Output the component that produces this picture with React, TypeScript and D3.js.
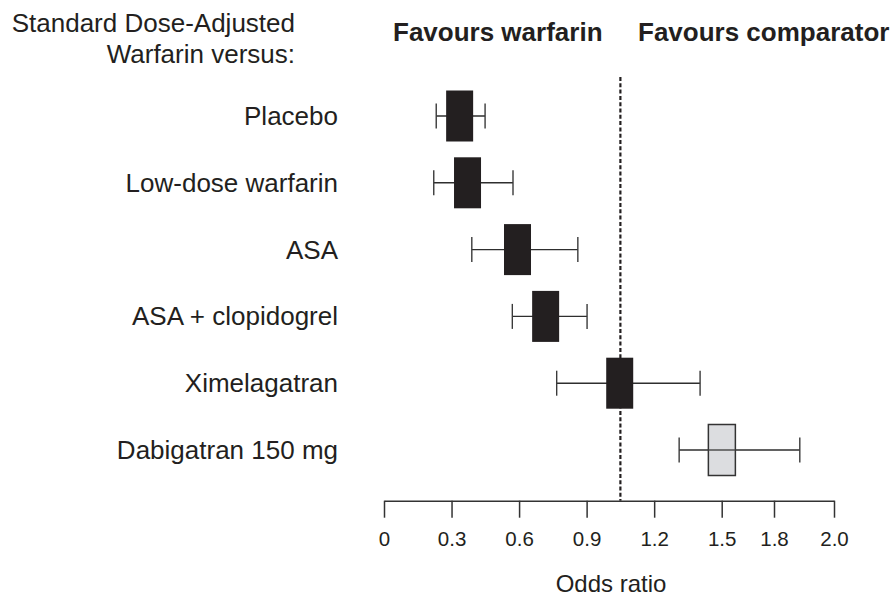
import { useEffect, useRef } from "react";
import * as d3 from "d3";

// comparators against standard dose-adjusted warfarin
const comparators = [
  "Placebo",
  "Low-dose warfarin",
  "ASA",
  "ASA + clopidogrel",
  "Ximelagatran",
  "Dabigatran 150 mg",
];
const oddsRatio = [0.336, 0.371, 0.593, 0.718, 1.047, 1.501];
const ciLow = [0.232, 0.221, 0.39, 0.57, 0.767, 1.311];
const ciHigh = [0.449, 0.573, 0.861, 0.902, 1.404, 1.886];
const highlighted = [false, false, false, false, false, true];

const tickValues = [0, 0.3, 0.6, 0.9, 1.2, 1.5, 1.8, 2.0];
const tickLabels = ["0", "0.3", "0.6", "0.9", "1.2", "1.5", "1.8", "2.0"];
const referenceValue = 1.05;

const W = 896;
const H = 599;
const FONT = "'Liberation Sans', Arial, Helvetica, sans-serif";
const INK = "#231f20";

const App = () => {
  const svgRef = useRef<SVGSVGElement>(null);

  useEffect(() => {
    if (!svgRef.current) return;
    const svg = d3.select(svgRef.current);
    svg.selectAll("*").remove();

    // the printed axis is not evenly spaced past 1.5, so follow its tick positions
    const x = d3
      .scaleLinear()
      .domain([0, 1.5, 1.8, 2.0])
      .range([384, 721.7, 774, 834]);

    const y = d3
      .scalePoint<string>()
      .domain(comparators)
      .range([116, 450]);

    const axisY = 500.7;
    const boxW = 27;
    const boxH = 51;
    const capH = 25;

    // header
    svg
      .append("text")
      .attr("x", 295)
      .attr("y", 32)
      .attr("text-anchor", "end")
      .style("font-size", "26px")
      .text("Standard Dose-Adjusted");
    svg
      .append("text")
      .attr("x", 295)
      .attr("y", 63)
      .attr("text-anchor", "end")
      .style("font-size", "26px")
      .text("Warfarin versus:");
    svg
      .append("text")
      .attr("x", 393)
      .attr("y", 41)
      .style("font-size", "26px")
      .style("font-weight", "bold")
      .text("Favours warfarin");
    svg
      .append("text")
      .attr("x", 638)
      .attr("y", 41)
      .style("font-size", "26px")
      .style("font-weight", "bold")
      .text("Favours comparator");

    // row labels
    svg
      .append("g")
      .selectAll("text")
      .data(comparators)
      .enter()
      .append("text")
      .attr("x", 338)
      .attr("y", (d) => (y(d) as number) + 9)
      .attr("text-anchor", "end")
      .style("font-size", "26px")
      .text((d) => d);

    // reference line
    svg
      .append("line")
      .attr("x1", x(referenceValue))
      .attr("x2", x(referenceValue))
      .attr("y1", 77)
      .attr("y2", axisY)
      .attr("stroke", INK)
      .attr("stroke-width", 2.2)
      .attr("stroke-dasharray", "4,2.3");

    const rows = comparators.map((c, i) => ({
      c,
      or: oddsRatio[i],
      lo: ciLow[i],
      hi: ciHigh[i],
      hl: highlighted[i],
    }));

    const g = svg.append("g").selectAll("g").data(rows).enter().append("g");

    // whiskers
    g.append("line")
      .attr("x1", (d) => x(d.lo))
      .attr("x2", (d) => x(d.hi))
      .attr("y1", (d) => y(d.c) as number)
      .attr("y2", (d) => y(d.c) as number)
      .attr("stroke", "#2e2e2e")
      .attr("stroke-width", 1.4);
    g.append("line")
      .attr("x1", (d) => x(d.lo))
      .attr("x2", (d) => x(d.lo))
      .attr("y1", (d) => (y(d.c) as number) - capH / 2)
      .attr("y2", (d) => (y(d.c) as number) + capH / 2)
      .attr("stroke", "#3a3a3a")
      .attr("stroke-width", 1.4);
    g.append("line")
      .attr("x1", (d) => x(d.hi))
      .attr("x2", (d) => x(d.hi))
      .attr("y1", (d) => (y(d.c) as number) - capH / 2)
      .attr("y2", (d) => (y(d.c) as number) + capH / 2)
      .attr("stroke", "#3a3a3a")
      .attr("stroke-width", 1.4);

    // boxes
    g.append("rect")
      .attr("x", (d) => x(d.or) - boxW / 2)
      .attr("y", (d) => (y(d.c) as number) - boxH / 2)
      .attr("width", boxW)
      .attr("height", boxH)
      .attr("fill", (d) => (d.hl ? "#dcdde0" : INK))
      .attr("stroke", (d) => (d.hl ? "#333" : "none"))
      .attr("stroke-width", 1.5);

    // the whisker shows through the highlighted box
    g.filter((d) => d.hl)
      .append("line")
      .attr("x1", (d) => x(d.or) - boxW / 2)
      .attr("x2", (d) => x(d.or) + boxW / 2)
      .attr("y1", (d) => y(d.c) as number)
      .attr("y2", (d) => y(d.c) as number)
      .attr("stroke", "#444")
      .attr("stroke-width", 1.4);

    // axis
    const axis = svg
      .append("g")
      .attr("transform", `translate(0,${axisY})`)
      .call(
        d3
          .axisBottom(x)
          .tickValues(tickValues)
          .tickFormat((_, i) => tickLabels[i])
          .tickSize(17)
          .tickSizeOuter(0)
          .tickPadding(14)
      );
    axis.selectAll("path, line").attr("stroke", "#333").attr("stroke-width", 1.5);
    axis
      .selectAll("text")
      .attr("fill", INK)
      .style("font-size", "20.5px")
      .style("font-family", FONT);
    axis.attr("font-family", null).attr("font-size", null);

    svg
      .append("text")
      .attr("x", 611)
      .attr("y", 592)
      .attr("text-anchor", "middle")
      .style("font-size", "24px")
      .text("Odds ratio");
  }, []);

  return (
    <svg
      ref={svgRef}
      width={W}
      height={H}
      style={{
        position: "absolute",
        left: 0,
        top: 0,
        background: "#fff",
        fontFamily: FONT,
        fill: INK,
      }}
    />
  );
};

export default App;
